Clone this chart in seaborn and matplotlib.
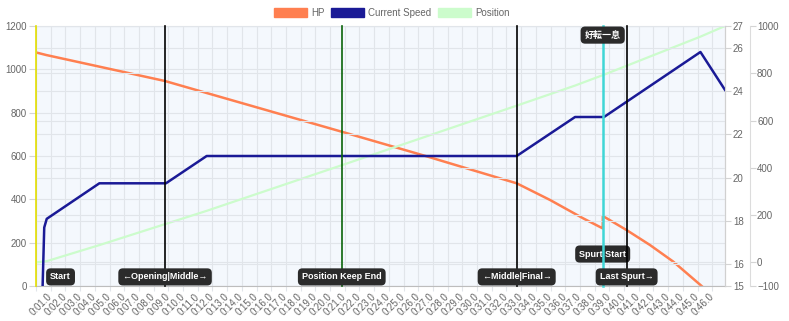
import matplotlib
matplotlib.use("Agg")
import matplotlib.pyplot as plt
import matplotlib.transforms as mtransforms
import seaborn as sns
import pandas as pd
from matplotlib.patches import Patch

# ---------------- data ----------------
hp_time = [0, 0.7, 8.78, 11.6, 20.8, 26.5, 31.56, 32.7, 34.97, 37.23, 38.55, 38.56, 40.18, 41.77, 43.36, 45.28]
hp_value = [1078, 1066, 946, 891, 712, 600, 497, 474, 397, 312, 266, 323, 258, 189, 112, 0]

speed_time = [0.45, 0.56, 0.73, 4.31, 8.84, 11.61, 32.7, 36.67, 38.64, 45.2, 46.87]
speed_value = [15.0, 17.7, 18.1, 19.74, 19.74, 21.0, 21.0, 22.8, 22.8, 25.8, 24.05]

pos_time = [0, 0.73, 4.31, 8.84, 11.61, 20.8, 32.7, 36.67, 38.64, 45.2, 46.87]
pos_value = [0, 5, 73, 163, 218, 411, 663, 748, 794, 955, 1000]

event_time = [0, 8.78, 20.8, 32.7, 38.55, 40.18]
event_color = ["#e4e000", "#000000", "#0a640a", "#000000", "#3fd6d6", "#000000"]

label_text = ["Start", "←Opening|Middle→", "Position Keep End", "←Middle|Final→",
              "Spurt Start", "Last Spurt→", "好転一息"]
label_time = [1.67, 8.78, 20.8, 32.7, 38.55, 40.18, 38.55]

x_tick_seconds = list(range(0, 47))
x_tick_labels = [""] + [f"0:{s:02d}.0" for s in range(1, 47)]
x_max = 46.87

hp_ticks = [0, 200, 400, 600, 800, 1000, 1200]
speed_ticks = [15, 16, 18, 20, 22, 24, 26, 27]
pos_ticks = [-100, 0, 200, 400, 600, 800, 1000]

series_names = ["HP", "Current Speed", "Position"]
series_colors = ["#ff7f50", "#1a1a96", "#ccfccc"]

# ---------------- styling ----------------
plt.rcParams["font.family"] = ["Liberation Sans", "Noto Sans CJK JP", "DejaVu Sans"]
TICK_C = "#666666"
GRID_C = "#e1e5ea"
BG = "#f4f8fd"
PX = 0.72  # points per pixel at 100 dpi

fig = plt.figure(figsize=(7.89, 3.21), dpi=100)
ax = fig.add_axes([36 / 789, 35 / 321, 689 / 789, 260 / 321])
ax3 = ax.twinx()
ax2 = ax.twinx()

ax.set_zorder(1)
ax3.set_zorder(2)
ax2.set_zorder(3)
ax.set_facecolor(BG)
ax3.patch.set_visible(False)
ax2.patch.set_visible(False)

hp_df = pd.DataFrame({"t": hp_time, "v": hp_value})
sp_df = pd.DataFrame({"t": speed_time, "v": speed_value})
pos_df = pd.DataFrame({"t": pos_time, "v": pos_value})

sns.lineplot(data=hp_df, x="t", y="v", ax=ax, color=series_colors[0], lw=1.8,
             sort=False, estimator=None)
sns.lineplot(data=pos_df, x="t", y="v", ax=ax3, color=series_colors[2], lw=1.6,
             sort=False, estimator=None)
sns.lineplot(data=sp_df, x="t", y="v", ax=ax2, color=series_colors[1], lw=1.8,
             sort=False, estimator=None)

for a in (ax, ax2, ax3):
    a.set_xlim(0, x_max)
    a.set_xlabel("")
    a.set_ylabel("")

ax.set_ylim(0, 1200)
ax2.set_ylim(15, 27)
ax3.set_ylim(-100, 1000)

ax.set_yticks(hp_ticks)
ax2.set_yticks(speed_ticks)
ax3.set_yticks(pos_ticks)

ax.set_xticks(x_tick_seconds)
ax.set_xticklabels(x_tick_labels, rotation=45, ha="right", va="center",
                   rotation_mode="anchor")
shift = mtransforms.ScaledTranslation(4 / 100, 0, fig.dpi_scale_trans)
for lab in ax.get_xticklabels():
    lab.set_transform(lab.get_transform() + shift)

ax.tick_params(axis="x", length=5 * PX, color=GRID_C, labelcolor=TICK_C, labelsize=7, pad=4 * PX)
ax.tick_params(axis="y", length=7 * PX, color="#d4d4d4", labelcolor=TICK_C, labelsize=7, pad=2 * PX)
ax2.tick_params(axis="y", length=6 * PX, color="#d4d4d4", labelcolor=TICK_C, labelsize=7, pad=2 * PX)
ax3.tick_params(axis="y", length=6 * PX, color="#d4d4d4", labelcolor=TICK_C, labelsize=7, pad=1 * PX)

# grids
ax.grid(True, axis="both", color=GRID_C, lw=0.8)
ax2.grid(True, axis="y", color=GRID_C, lw=0.8)
ax3.grid(True, axis="y", color=GRID_C, lw=0.8)
for a in (ax, ax2, ax3):
    a.set_axisbelow(True)
for tick_val, gl in zip(ax3.get_yticks(), ax3.yaxis.get_gridlines()):
    if tick_val == 0:
        gl.set_color("#c4c4c4")

# spines
for s in ax.spines.values():
    s.set_color("#d0d0d0")
    s.set_linewidth(0.8)
ax.spines["bottom"].set_color("#bdbdbd")
ax.spines["top"].set_color(GRID_C)
for s in ("top", "bottom", "left"):
    ax2.spines[s].set_visible(False)
    ax3.spines[s].set_visible(False)
ax2.spines["right"].set_color("#d0d0d0")
ax2.spines["right"].set_linewidth(0.8)
ax3.spines["right"].set_position(("outward", 25 * PX))
ax3.spines["right"].set_color("#dcdcdc")
ax3.spines["right"].set_linewidth(0.8)

# event lines
for t, c in zip(event_time, event_color):
    lw = 1.8 if c == "#3fd6d6" else 1.2
    ax2.axvline(t, color=c, lw=lw, zorder=5, clip_on=False)

# labels
label_y = [0.035, 0.035, 0.035, 0.035, 0.123, 0.035, 0.965]
tr = ax2.get_xaxis_transform()
for txt, t, y in zip(label_text, label_time, label_y):
    z = 4 if txt == "Spurt Start" else 6
    fam = ["Noto Sans CJK JP"] if txt == "好転一息" else ["Liberation Sans", "DejaVu Sans"]
    ax2.text(t, y, txt, transform=tr, ha="center", va="center", color="white",
             fontsize=6.5, fontweight="bold", family=fam, zorder=z,
             bbox=dict(boxstyle="round,pad=0.45,rounding_size=0.5",
                       fc="#2b2b2b", ec="none"))

# legend
handles = [Patch(facecolor=c, edgecolor=c, label=n) for n, c in zip(series_names, series_colors)]
leg = fig.legend(handles=handles, loc="center", bbox_to_anchor=(392 / 789, 1 - 13 / 321),
                 ncol=3, frameon=False, fontsize=7, handlelength=3.4, handleheight=1.1,
                 handletextpad=0.4, columnspacing=0.7, borderaxespad=0)
for t in leg.get_texts():
    t.set_color(TICK_C)

fig.savefig("out.png", dpi=100, facecolor="white")
